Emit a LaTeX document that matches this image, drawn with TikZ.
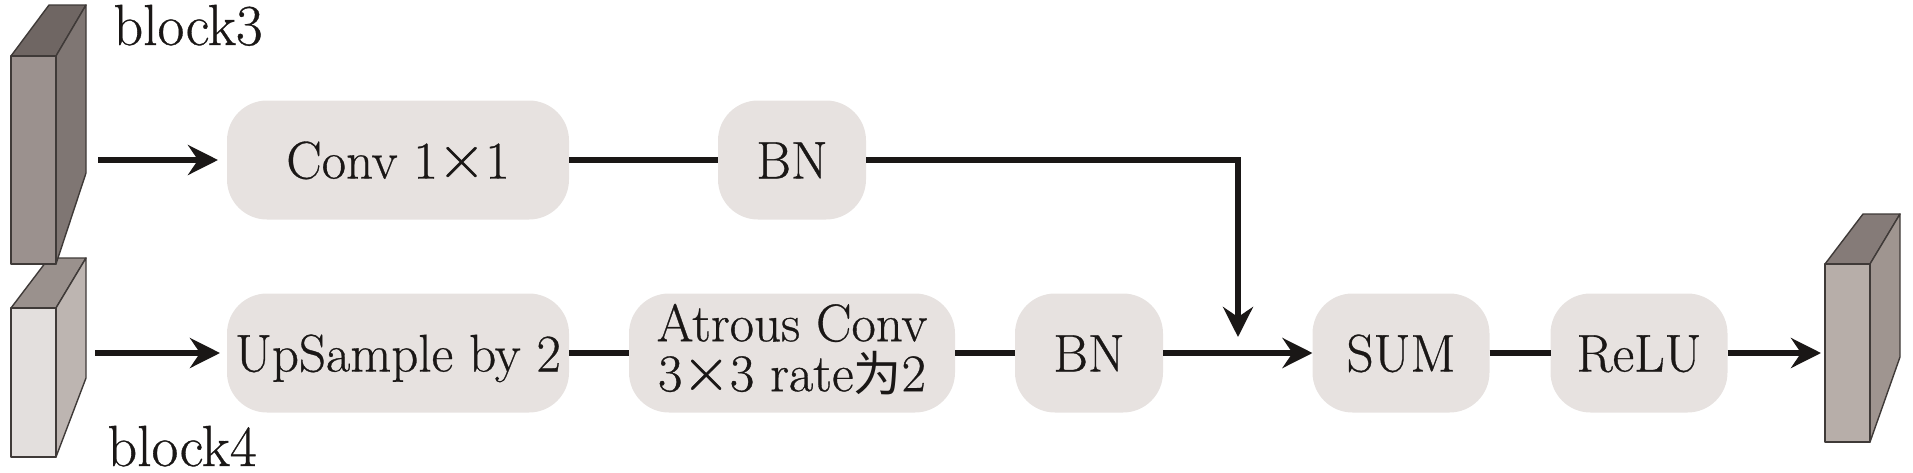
\documentclass[tikz,border=0pt]{standalone}
\usepackage{fontspec}
\setmainfont{Latin Modern Roman}[FakeBold=0.6]
\newfontfamily\cjk{Noto Sans CJK SC}
\usetikzlibrary{arrows.meta, positioning}

\definecolor{boxgray}{HTML}{E7E2E0}
\definecolor{inkgray}{HTML}{1A1716}
\definecolor{edgegray}{HTML}{3F3A38}
\newcommand{\tms}{{\fontsize{33}{25}\selectfont ×}}

\tikzset{
  blockbox/.style={fill=boxgray, rounded corners=20pt, inner sep=0pt, outer sep=0pt, minimum height=59.5pt,
    text=inkgray, font=\fontsize{26.5}{25}\selectfont, align=center},
  oneline/.style={blockbox, text height=18.5pt, text depth=0pt},
  face/.style={draw=edgegray, line width=0.7pt, line join=round},
  label/.style={anchor=base west, inner sep=0pt, outer sep=0pt, text=inkgray, font=\fontsize{29}{25}\selectfont}
}

\begin{document}
\begin{tikzpicture}[x=0.5pt, y=-0.5pt, ->, >={Stealth[length=15pt, width=15pt, inset=5pt]},
    line width=3.4pt, color=inkgray]
  \useasboundingbox (0,0) rectangle (1913,472);

  % row one
  \node[oneline, minimum width=171pt] (conv) at (398,160) {Conv 1\tms 1};
  \node[oneline, minimum width=74pt, right=74.5pt of conv] (bnA) {BN};
  % row two
  \node[oneline, minimum width=171pt, below=37pt of conv] (up) {UpSample by 2};
  \node[blockbox, minimum width=163pt, text depth=5.5pt, right=30pt of up] (atrous) {Atrous Conv\\3\tms 3 rate{\cjk\fontsize{24}{25}\selectfont 为}2};
  \node[oneline, minimum width=74pt, right=30pt of atrous] (bnB) {BN};
  \node[oneline, minimum width=88.5pt, right=74.75pt of bnB] (sum) {SUM};
  \node[oneline, minimum width=88.5pt, right=30.5pt of sum] (relu) {ReLU};

  % cuboids, block4 goes under block3
  \filldraw[-, face, fill={rgb,255:red,154;green,145;blue,141}] (11,308) -- (49,258) -- (86,258) -- (56,308) -- cycle;
  \filldraw[-, face, fill={rgb,255:red,189;green,181;blue,177}] (56,308) -- (86,258) -- (86,378) -- (56,457) -- cycle;
  \filldraw[-, face, fill={rgb,255:red,227;green,223;blue,221}] (11,308) rectangle (56,457);
  \filldraw[-, face, fill={rgb,255:red,111;green,102;blue,99}] (11,56) -- (49,5) -- (86,5) -- (56,56) -- cycle;
  \filldraw[-, face, fill={rgb,255:red,127;green,118;blue,115}] (56,56) -- (86,5) -- (86,173) -- (56,264) -- cycle;
  \filldraw[-, face, fill={rgb,255:red,155;green,145;blue,142}] (11,56) rectangle (56,264);
  \filldraw[-, face, fill={rgb,255:red,133;green,123;blue,120}] (1825,264) -- (1863,214) -- (1900,214) -- (1870,264) -- cycle;
  \filldraw[-, face, fill={rgb,255:red,159;green,149;blue,144}] (1870,264) -- (1900,214) -- (1900,357) -- (1870,442) -- cycle;
  \filldraw[-, face, fill={rgb,255:red,183;green,174;blue,169}] (1825,264) rectangle (1870,442);

  \node[label] (lblA) at (113.5,45) {block3};
  \node[label] (lblB) at (107.5,466) {block4};

  \coordinate (inA) at (98,160);
  \coordinate (inB) at (95,353);
  \coordinate (mrg) at (1238,337);
  \coordinate (outp) at (1821,353);

  \draw[shorten >=4.5pt] (inA) -- (conv);
  \draw[shorten >=3.5pt] (inB) -- (up);
  \draw[-] (conv) -- (bnA);
  \draw (bnA) -| (mrg);
  \draw[-] (up) -- (atrous);
  \draw[-] (atrous) -- (bnB);
  \draw (bnB) -- (sum);
  \draw[-] (sum) -- (relu);
  \draw (relu) -- (outp);
\end{tikzpicture}
\end{document}
